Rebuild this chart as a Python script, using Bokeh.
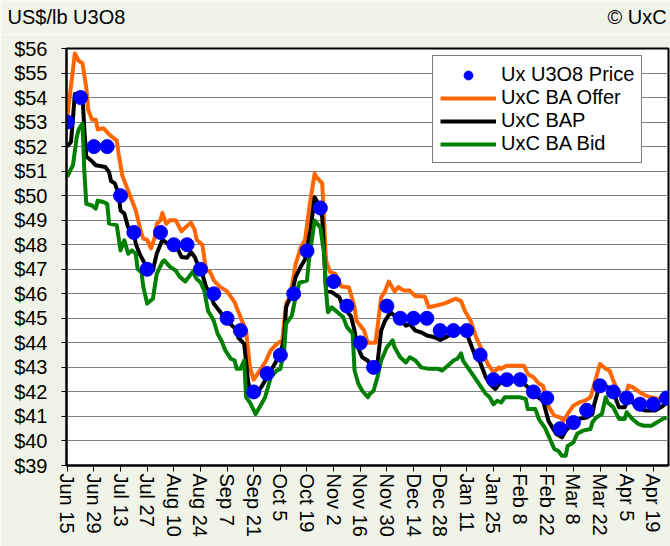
from bokeh.plotting import figure
from bokeh.layouts import column
from bokeh.models import (FixedTicker, NumeralTickFormatter, Legend, LegendItem,
                          Label, Range1d)
from bokeh.embed import file_html
from bokeh.resources import INLINE

# ---- data (days counted from Jun 15) ----
tick_days = list(range(0, 309, 14))
tick_labels = ["Jun 15", "Jun 29", "Jul 13", "Jul 27", "Aug 10", "Aug 24", "Sep 7",
               "Sep 21", "Oct 5", "Oct 19", "Nov 2", "Nov 16", "Nov 30", "Dec 14",
               "Dec 28", "Jan 11", "Jan 25", "Feb 8", "Feb 22", "Mar 8", "Mar 22",
               "Apr 5", "Apr 19"]

price_day = list(range(0, 316, 7))
price_val = [53, 54, 52, 52, 50, 48.5, 47, 48.5, 48, 48,
             47, 46, 45, 44.5, 42, 42.75, 43.5, 46, 47.75, 49.5,
             46.5, 45.5, 44, 43, 45.5, 45, 45, 45, 44.5, 44.5,
             44.5, 43.5, 42.5, 42.5, 42.5, 42, 41.75, 40.5, 40.75, 41.25,
             42.25, 42, 41.75, 41.5, 41.5, 41.75]

offer_day = [0, 4, 6, 8, 10, 11, 13, 15, 16, 19, 22, 25, 26, 27, 29, 32, 34, 36, 39, 40,
             42, 44, 46, 47, 49, 50, 52, 54, 57, 60, 62, 65, 67, 68, 71, 73, 75, 77, 80, 84,
             88, 91, 94, 96, 98, 101, 104, 107, 110, 113, 115, 117, 120, 123, 125, 127, 130, 131, 134, 136,
             138, 141, 144, 148, 151, 152, 156, 158, 162, 163, 165, 167, 169, 172, 174, 177, 180, 183, 186, 188,
             190, 193, 198, 200, 204, 207, 209, 212, 215, 218, 221, 224, 227, 228, 231, 240, 242, 245, 248, 250,
             253, 256, 259, 261, 263, 266, 269, 272, 275, 276, 278, 280, 283, 285, 287, 289, 291, 293, 295, 297,
             301, 304, 307, 311, 313, 315]
offer_val = [53.2, 55.8, 55.5, 55.4, 54.4, 53.5, 53.1, 53.1, 52.7, 52.75, 52.5, 52.3, 52.25, 51.7, 50.8, 50.2, 49.8, 49.4, 48.45, 48.25,
             48.2, 47.85, 48.3, 48.85, 49.0, 49.3, 48.85, 49.0, 49.0, 48.55, 48.7, 48.9, 48.6, 48.2, 48.0, 46.95, 46.9, 46.55, 46.3, 46.1,
             45.65, 45.05, 44.5, 43.0, 42.5, 42.85, 43.2, 43.7, 43.95, 44.1, 45.6, 45.85, 47.2, 47.95, 48.2, 49.4, 50.9, 50.76, 50.5, 47.36,
             46.9, 46.8, 46.3, 46.27, 45.45, 44.9, 44.5, 44.0, 44.0, 44.6, 45.86, 46.1, 46.5, 46.1, 46.27, 46.13, 46.13, 45.9, 45.9, 45.88,
             45.45, 45.5, 45.6, 45.66, 45.8, 45.7, 45.3, 44.9, 44.2, 43.7, 43.14, 42.8, 43.0, 42.94, 43.07, 43.07, 42.73, 42.6, 42.33, 42.26,
             41.4, 41.03, 40.96, 40.83, 41.1, 41.44, 41.57, 41.64, 41.78, 42.05, 42.6, 43.14, 42.94, 42.87, 42.46, 42.1, 41.85, 41.78, 42.26, 42.2,
             41.98, 41.85, 41.78, 41.7, 41.85, 41.85]

bap_day = [0, 2, 4, 6, 8, 9, 10, 13, 15, 20, 22, 23, 25, 27, 28, 30, 32, 35, 36, 38,
           41, 43, 45, 47, 50, 53, 55, 58, 60, 63, 65, 67, 69, 71, 73, 75, 77, 80, 84, 88,
           90, 93, 95, 96, 99, 102, 105, 109, 112, 114, 115, 118, 120, 123, 125, 128, 130, 132, 134, 136,
           139, 143, 145, 149, 151, 152, 155, 158, 160, 163, 165, 167, 170, 172, 176, 178, 180, 183, 186, 189,
           193, 196, 199, 202, 206, 209, 212, 214, 217, 220, 222, 225, 227, 230, 238, 242, 246, 250, 253, 257,
           260, 262, 266, 269, 273, 276, 277, 279, 282, 284, 287, 290, 293, 295, 297, 301, 304, 309, 312, 315]
bap_val = [52.0, 52.2, 54.15, 54.15, 54.1, 52.67, 51.6, 51.4, 51.24, 51.17, 50.96, 50.6, 50.5, 50.08, 49.4, 49.27, 48.7, 48.5, 48.04, 47.63,
           47.2, 46.9, 46.95, 47.63, 48.2, 48.04, 48.04, 47.84, 47.5, 47.47, 47.7, 47.5, 47.1, 46.8, 46.27, 46.07, 45.6, 45.3, 44.9, 44.6,
           44.2, 43.96, 42.46, 42.05, 41.85, 42.2, 42.6, 43.14, 43.55, 44.2, 45.45, 46.0, 46.68, 47.15, 47.4, 48.7, 49.94, 49.67, 49.13, 46.13,
           46.07, 45.86, 45.45, 45.1, 44.5, 43.96, 43.41, 43.27, 43.0, 43.14, 44.5, 44.9, 45.25, 45.1, 44.9, 44.7, 44.77, 44.5, 44.43, 44.3,
           44.23, 44.12, 44.23, 44.37, 44.5, 44.57, 43.96, 43.55, 43.2, 42.6, 42.33, 42.12, 42.33, 42.46, 42.46, 42.2, 41.85, 41.65, 40.8, 40.29,
           40.15, 40.42, 40.76, 40.9, 40.96, 41.1, 41.5, 42.05, 42.26, 42.2, 41.98, 41.37, 41.37, 41.78, 41.57, 41.3, 41.24, 41.24, 41.37, 41.55]

bid_day = [0, 2, 3, 5, 6, 8, 9, 10, 13, 15, 16, 19, 21, 22, 26, 28, 30, 32, 34, 36,
           37, 39, 40, 42, 45, 47, 50, 51, 54, 57, 59, 62, 64, 66, 68, 70, 72, 74, 76, 77,
           79, 81, 83, 86, 88, 89, 91, 93, 94, 96, 99, 102, 104, 107, 110, 112, 114, 115, 118, 120,
           122, 126, 127, 128, 130, 133, 135, 136, 137, 139, 142, 145, 147, 150, 151, 153, 155, 158, 159, 161,
           163, 165, 168, 171, 172, 175, 178, 180, 183, 186, 190, 195, 197, 200, 203, 205, 207, 208, 211, 214,
           217, 220, 222, 224, 226, 228, 230, 238, 241, 242, 246, 248, 251, 253, 256, 258, 260, 262, 263, 266,
           268, 271, 275, 276, 278, 281, 283, 284, 287, 290, 293, 294, 297, 300, 303, 307, 310, 313, 315]
bid_val = [50.76, 51.1, 51.24, 52.4, 52.7, 52.94, 50.96, 49.67, 49.6, 49.47, 49.8, 49.74, 49.67, 48.86, 48.8, 47.77, 48.18, 47.63, 47.77, 47.63,
           47.0, 46.88, 46.27, 45.6, 45.8, 46.8, 47.3, 47.36, 47.1, 46.95, 46.7, 46.5, 46.7, 46.9, 46.6, 46.47, 46.13, 45.3, 45.05, 44.9,
           44.37, 44.1, 43.7, 43.35, 43.28, 42.94, 42.94, 43.28, 41.78, 41.57, 41.1, 41.5, 41.78, 42.6, 42.87, 42.94, 43.7, 44.78, 45.1, 45.86,
           46.45, 46.54, 47.36, 47.9, 48.99, 48.7, 47.63, 46.13, 45.25, 45.45, 45.25, 45.05, 44.64, 44.37, 42.87, 42.33, 42.05, 41.78, 41.92, 42.05,
           42.6, 43.28, 43.82, 44.1, 43.82, 43.41, 43.2, 43.41, 43.28, 43.0, 42.94, 42.94, 42.87, 43.07, 43.28, 43.35, 43.57, 43.28, 42.94, 42.6,
           42.26, 41.92, 41.78, 41.5, 41.64, 41.57, 41.78, 41.78, 41.71, 41.3, 41.3, 40.87, 40.55, 40.2, 39.67, 39.6, 39.4, 39.4, 39.8, 39.94,
           40.29, 40.42, 40.49, 40.76, 40.96, 41.1, 41.78, 41.57, 41.37, 40.9, 40.9, 41.17, 40.9, 40.7, 40.62, 40.62, 40.76, 40.9, 40.95]

y_ticks = list(range(39, 57))

unit_text = "US$/lb U3O8"
source_text = "© UxC"

BG = "#F0F4E8"
FONT = "Liberation Sans"
FS = "20px"

# ---- header strip with the two corner texts ----
top = figure(width=670, height=34, output_backend="svg", toolbar_location=None,
             x_range=Range1d(0, 670), y_range=Range1d(0, 34),
             x_axis_location=None, y_axis_location=None, min_border=0,
             background_fill_color=BG, border_fill_color=BG)
top.frame_align = False
top.outline_line_color = None
top.grid.grid_line_color = None
top.add_layout(Label(x=7, y=7, x_units="screen", y_units="screen", text=unit_text,
                     text_font=FONT, text_font_size=FS, text_color="black"))
top.add_layout(Label(x=607, y=7, x_units="screen", y_units="screen", text=source_text,
                     text_font=FONT, text_font_size=FS, text_color="black"))

# ---- main chart ----
p = figure(width=670, height=512, output_backend="svg", toolbar_location=None,
           x_range=Range1d(-0.4, 316), y_range=Range1d(39, 56),
           min_border_left=66, min_border_right=2, min_border_top=14, min_border_bottom=81,
           background_fill_color="white", border_fill_color=BG)
p.frame_align = False
p.outline_line_color = "black"
p.outline_line_width = 2

r_offer = p.line(offer_day, offer_val, line_color="#FF6600", line_width=4, line_join="round")
r_bap = p.line(bap_day, bap_val, line_color="black", line_width=4, line_join="round")
r_bid = p.line(bid_day, bid_val, line_color="#008000", line_width=4, line_join="round")
r_price = p.scatter(price_day, price_val, size=14, marker="circle",
                    fill_color="#0000FF", line_color="#0000FF")

p.xaxis.ticker = FixedTicker(ticks=tick_days)
p.xaxis.major_label_overrides = {d: lab for d, lab in zip(tick_days, tick_labels)}
p.xaxis.major_label_orientation = "vertical"
p.yaxis.ticker = FixedTicker(ticks=y_ticks)
p.yaxis.formatter = NumeralTickFormatter(format="$0")
for ax in (p.xaxis, p.yaxis):
    ax.major_label_text_font = FONT
    ax.major_label_text_font_size = FS
    ax.major_label_text_color = "black"
    ax.axis_line_color = "black"
    ax.axis_line_width = 2
    ax.major_tick_line_color = "black"
    ax.major_tick_line_width = 1
    ax.major_tick_in = 0
    ax.minor_tick_line_color = None
p.xaxis.major_tick_out = 6
p.xaxis.major_label_standoff = 2
p.yaxis.major_tick_out = 5
p.yaxis.major_label_standoff = 14

p.xgrid.grid_line_color = None
p.ygrid.ticker = FixedTicker(ticks=y_ticks)
p.ygrid.grid_line_color = "#808080"
p.ygrid.grid_line_width = 1

legend = Legend(items=[
    LegendItem(label="Ux U3O8 Price", renderers=[r_price]),
    LegendItem(label="UxC BA Offer", renderers=[r_offer]),
    LegendItem(label="UxC BAP", renderers=[r_bap]),
    LegendItem(label="UxC BA Bid", renderers=[r_bid]),
], location=(366, 302))
legend.label_text_font = FONT
legend.label_text_font_size = FS
legend.label_text_color = "black"
legend.glyph_width = 56
legend.glyph_height = 22
legend.label_height = 22
legend.label_standoff = 5
legend.spacing = 0
legend.padding = 7
legend.margin = 0
legend.border_line_color = "black"
legend.border_line_width = 1
legend.background_fill_color = "white"
legend.background_fill_alpha = 1
p.add_layout(legend)

layout = column(top, p, spacing=0)
open("out.html", "w").write(file_html(layout, INLINE))
